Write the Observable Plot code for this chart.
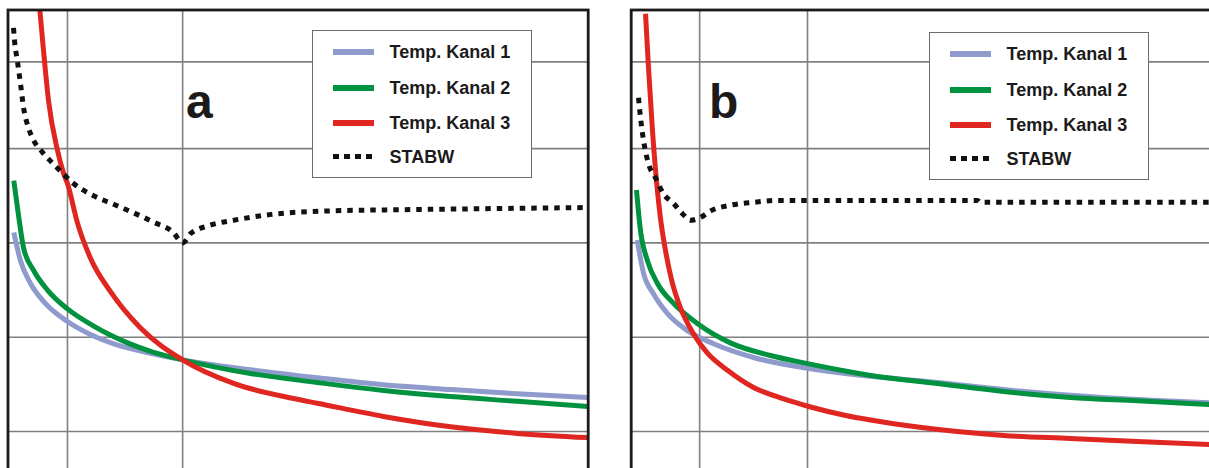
<!DOCTYPE html>
<html>
<head>
<meta charset="utf-8">
<script src="https://cdn.jsdelivr.net/npm/d3@7"></script>
<script src="https://cdn.jsdelivr.net/npm/@observablehq/plot@0.6"></script>
<style>
  html, body { margin: 0; padding: 0; background: #fff; }
  #wrap { position: relative; width: 1209px; height: 468px; overflow: hidden; background: #fff;
          font-family: "Liberation Sans", Arial, Helvetica, sans-serif; }
  .panel { position: absolute; top: 0; width: 610px; }
  .panel svg { max-width: none !important; }
  .letter { position: absolute; font-size: 48px; line-height: 48px; font-weight: bold; color: #1c1a1a; }
  .legend { position: absolute; width: 218px; height: 146px; border: 1.5px solid #6b6b6b; background: #fff; }
  .row { position: absolute; left: 0; height: 20px; width: 100%; }
  .sw { position: absolute; left: 20px; top: 7px; width: 41px; height: 6px; }
  .lab { position: absolute; left: 77px; top: 0; font-size: 18px; line-height: 20px; font-weight: bold; color: #1c1a1a; white-space: nowrap; }
</style>
</head>
<body>
<div id="wrap">
  <div id="pa" class="panel" style="left:0px"></div>
  <div id="pb" class="panel" style="left:620px"></div>
</div>
<script>
// ---- series names, colours ----
const seriesNames = ["Temp. Kanal 1", "Temp. Kanal 2", "Temp. Kanal 3", "STABW"];
const seriesColors = ["#8e9bcc", "#00923f", "#df2620", "#111111"];
const panelLabels = ["a", "b"];

// ---- grid positions (x in % of run, y in units) ----
const gridYValues = [0, 10, 20, 30, 39.2];
const gridXA = [10.25, 30.1];
const gridXB = [11.8, 30.4];

// ---- Panel a ----
const aK1x = [1.0, 2.15, 3.88, 6.12, 10.25, 14.2, 18.9, 24.6, 30.1, 41.8, 53.3, 64.7, 76.3, 87.8, 100];
const aK1y = [21.1, 18.1, 15.7, 13.8, 11.66, 10.29, 9.17, 8.3, 7.6, 6.55, 5.7, 4.95, 4.45, 4.0, 3.6];
const aK2x = [1.0, 1.86, 2.67, 4.4, 6.8, 10.25, 14.7, 20.6, 25.1, 30.1, 41.8, 53.3, 64.7, 76.3, 87.8, 100];
const aK2y = [26.6, 22.7, 19.5, 17.1, 15.0, 13.0, 11.2, 9.4, 8.4, 7.6, 6.15, 5.2, 4.35, 3.7, 3.2, 2.65];
const aK3x = [5.34, 6.12, 6.98, 8.53, 9.57, 10.25, 11.98, 14.2, 17.7, 22.8, 30.1, 38.9, 49.2, 53.3, 64.7, 76.3, 87.8, 100];
const aK3y = [45.7, 40.4, 35.1, 29.8, 27.4, 26.3, 22.1, 18.4, 14.8, 11.0, 7.6, 5.1, 3.5, 3.0, 1.6, 0.5, -0.2, -0.65];
const aSDx = [0.95, 1.12, 1.64, 2.15, 2.67, 3.53, 4.4, 5.95, 7.3, 9.4, 11.3, 14.75, 18.2, 21.6, 25.1, 28.5, 30.1, 31.5, 34.4, 38.9, 45.1, 55.8, 65.1, 78.3, 100];
const aSDy = [42.8, 41.5, 39.2, 36.9, 34.4, 32.2, 30.9, 29.6, 28.7, 27.4, 26.3, 25.0, 24.1, 23.2, 22.2, 21.1, 20.0, 21.0, 21.8, 22.4, 23.0, 23.4, 23.5, 23.6, 23.75];

// ---- Panel b ----
const bK1x = [1.03, 2.12, 3.84, 6.26, 9.7, 14.2, 21.1, 30.4, 38.3, 41.3, 52.8, 64.2, 75.7, 87.3, 100];
const bK1y = [20.3, 16.8, 14.6, 12.5, 10.7, 9.3, 7.85, 6.7, 6.05, 5.85, 5.2, 4.45, 3.85, 3.4, 3.05];
const bK2x = [0.91, 1.6, 2.81, 4.53, 7.29, 11.4, 17.1, 24.0, 30.4, 38.3, 41.3, 52.8, 64.2, 75.7, 87.3, 100];
const bK2y = [25.6, 21.3, 18.1, 15.7, 13.6, 11.45, 9.4, 8.06, 7.2, 6.26, 5.94, 5.09, 4.24, 3.6, 3.25, 2.85];
const bK3x = [2.47, 2.98, 3.67, 4.36, 5.05, 5.91, 6.95, 8.5, 10.7, 13.15, 16.6, 21.1, 26.3, 30.6, 37.0, 41.3, 50.1, 64.2, 75.7, 87.3, 100];
const bK3y = [44.3, 38.6, 31.9, 26.6, 22.6, 19.2, 16.1, 13.1, 10.4, 8.3, 6.5, 4.67, 3.45, 2.65, 1.70, 1.22, 0.42, -0.42, -0.74, -1.06, -1.4];
const bSDx = [1.26, 1.6, 2.12, 2.98, 4.19, 5.57, 7.29, 8.84, 10.2, 11.95, 13.7, 17.1, 21.1, 25.2, 30.4, 59.7, 60.2, 100];
const bSDy = [35.4, 33.3, 30.9, 28.4, 26.9, 25.2, 24.2, 23.1, 22.4, 22.7, 23.4, 24.0, 24.3, 24.5, 24.5, 24.5, 24.3, 24.3];

function toRows(xs, ys) { return xs.map((x, i) => ({x, y: ys[i]})); }

function panel(series, gridX, opts) {
  const lineMarks = series.map((s, i) => Plot.line(toRows(s[0], s[1]), {
    x: "x", y: "y", curve: "monotone-x", clip: true,
    stroke: seriesColors[i],
    strokeWidth: 5,
    strokeDasharray: i === 3 ? "5.5,6" : null,
    strokeLinecap: "butt", strokeLinejoin: "round"
  }));
  return Plot.plot({
    width: opts.width, height: 480,
    marginLeft: opts.ml, marginRight: opts.mr, marginTop: 9.5, marginBottom: 0,
    x: {domain: [0, 100], axis: null},
    y: {domain: [-5.196, 44.698], axis: null},
    style: {background: "transparent", overflow: "visible", maxWidth: "none"},
    marks: [
      Plot.ruleY(gridYValues, {stroke: "#808080", strokeWidth: 1.6}),
      Plot.ruleX(gridX, {stroke: "#808080", strokeWidth: 1.6}),
      ...lineMarks,
      Plot.frame({stroke: "#1c1a1a", strokeWidth: 2.8})
    ]
  });
}

document.getElementById("pa").appendChild(panel(
  [[aK1x, aK1y], [aK2x, aK2y], [aK3x, aK3y], [aSDx, aSDy]], gridXA, {width: 600, ml: 7.5, mr: 12.3}));
document.getElementById("pb").appendChild(panel(
  [[bK1x, bK1y], [bK2x, bK2y], [bK3x, bK3y], [bSDx, bSDy]], gridXB, {width: 601, ml: 10.7, mr: 10.3}));

// ---- legends & panel letters (HTML overlay) ----
const wrap = document.getElementById("wrap");
function addLegend(left, top) {
  const lg = document.createElement("div");
  lg.className = "legend";
  lg.style.left = left + "px"; lg.style.top = top + "px";
  const rowTops = [11, 47, 82, 116];
  seriesNames.forEach((name, i) => {
    const r = document.createElement("div");
    r.className = "row"; r.style.top = rowTops[i] + "px";
    const sw = document.createElement("div");
    sw.className = "sw";
    if (i === 3) {
      sw.style.background = `repeating-linear-gradient(to right, ${seriesColors[i]} 0 6px, transparent 6px 11px)`;
      sw.style.height = "5px"; sw.style.top = "7.5px";
    } else {
      sw.style.background = seriesColors[i];
    }
    const lab = document.createElement("div");
    lab.className = "lab"; lab.textContent = name;
    r.appendChild(sw); r.appendChild(lab);
    lg.appendChild(r);
  });
  wrap.appendChild(lg);
}
addLegend(311.5, 29.5);
addLegend(928.5, 31.5);

function addLetter(text, left) {
  const d = document.createElement("div");
  d.className = "letter"; d.textContent = text;
  d.style.left = left + "px"; d.style.top = "77.5px";
  wrap.appendChild(d);
}
addLetter(panelLabels[0], 186);
addLetter(panelLabels[1], 709);
</script>
</body>
</html>
